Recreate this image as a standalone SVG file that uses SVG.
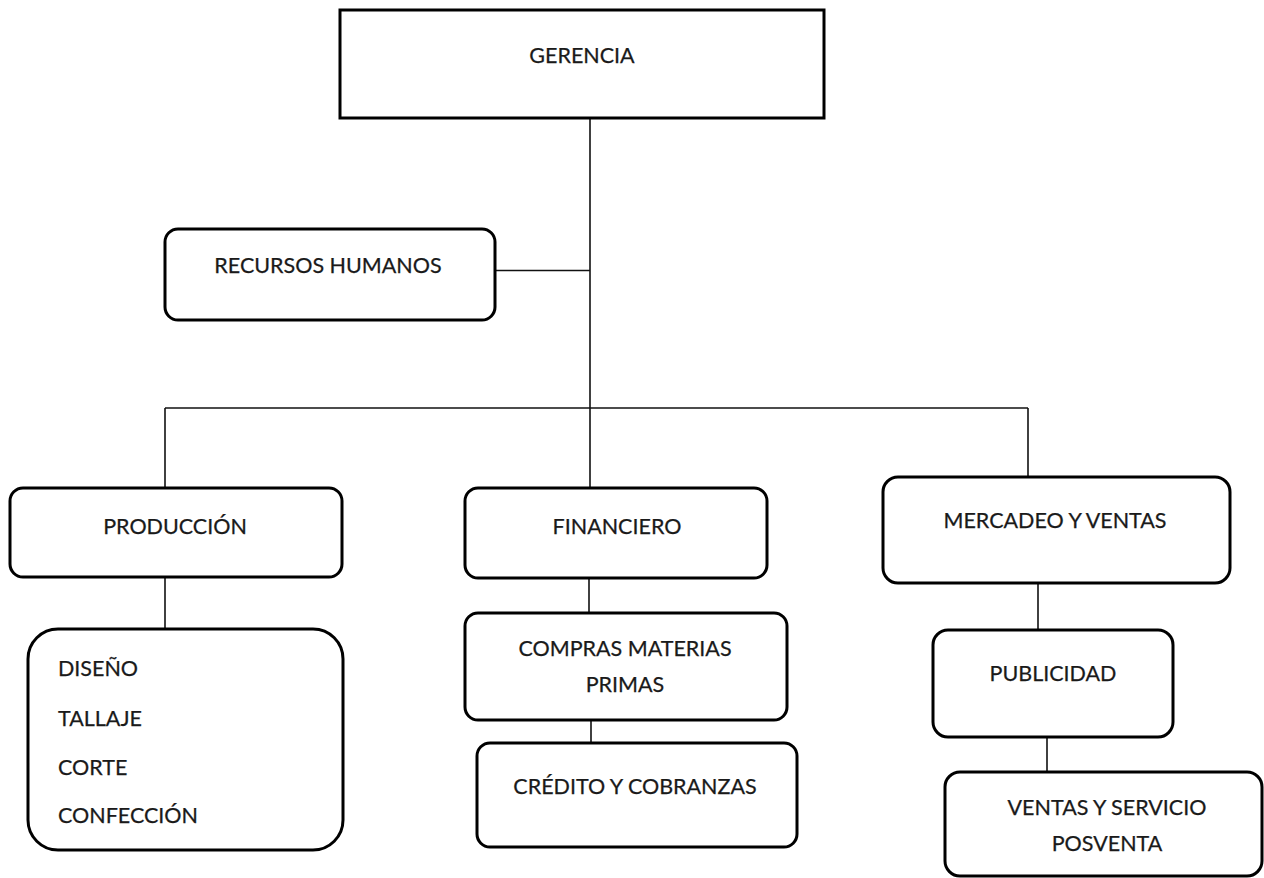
<svg xmlns="http://www.w3.org/2000/svg" width="1264" height="878" viewBox="0 0 1264 878">
  <style>
    .box { fill: #fff; stroke: #000; stroke-width: 3; }
    .lbl { font-family: Lato, "Open Sans", "Liberation Sans", sans-serif; font-size: 21.5px; fill: #1a1a1a; text-anchor: middle; stroke: #1a1a1a; stroke-width: 0.25; }
    .lst { font-family: Lato, "Open Sans", "Liberation Sans", sans-serif; font-size: 21.5px; fill: #1a1a1a; stroke: #1a1a1a; stroke-width: 0.25; }
    .wire { fill: none; stroke: #111; stroke-width: 1.6; }
  </style>
  <rect width="1264" height="878" fill="#fff"/>

  <!-- connectors -->
  <g id="connectors" class="wire">
    <path d="M590 118 V488"/>
    <path d="M495 270.5 H590"/>
    <path d="M165 408 H1028"/>
    <path d="M165 408 V488"/>
    <path d="M1028 408 V477"/>
    <path d="M165 577 V628"/>
    <path d="M589 578 V613"/>
    <path d="M591 720 V743"/>
    <path d="M1038 583 V630"/>
    <path d="M1047 737 V772"/>
  </g>

  <g id="gerencia">
    <rect class="box" x="340" y="10" width="484" height="108"/>
    <text class="lbl" x="582" y="63">GERENCIA</text>
  </g>

  <g id="recursos-humanos">
    <rect class="box" x="165" y="229" width="330" height="91" rx="13"/>
    <text class="lbl" x="328" y="273">RECURSOS HUMANOS</text>
  </g>

  <g id="produccion">
    <rect class="box" x="10" y="488" width="332" height="89" rx="13"/>
    <text class="lbl" x="175" y="534">PRODUCCIÓN</text>
  </g>

  <g id="produccion-tareas">
    <rect class="box" x="28" y="629" width="315" height="221" rx="30"/>
    <text class="lst" x="58" y="676">DISEÑO</text>
    <text class="lst" x="58" y="726">TALLAJE</text>
    <text class="lst" x="58" y="775">CORTE</text>
    <text class="lst" x="58" y="823">CONFECCIÓN</text>
  </g>

  <g id="financiero">
    <rect class="box" x="465" y="488" width="302" height="90" rx="13"/>
    <text class="lbl" x="617" y="534">FINANCIERO</text>
  </g>

  <g id="compras">
    <rect class="box" x="465" y="613" width="322" height="107" rx="13"/>
    <text class="lbl" x="625" y="656">COMPRAS MATERIAS</text>
    <text class="lbl" x="625" y="692">PRIMAS</text>
  </g>

  <g id="credito">
    <rect class="box" x="477" y="743" width="320" height="104" rx="13"/>
    <text class="lbl" x="635" y="794">CRÉDITO Y COBRANZAS</text>
  </g>

  <g id="mercadeo">
    <rect class="box" x="883" y="477" width="347" height="106" rx="15"/>
    <text class="lbl" x="1055" y="528">MERCADEO Y VENTAS</text>
  </g>

  <g id="publicidad">
    <rect class="box" x="933" y="630" width="240" height="107" rx="15"/>
    <text class="lbl" x="1053" y="681">PUBLICIDAD</text>
  </g>

  <g id="ventas-posventa">
    <rect class="box" x="945" y="772" width="317" height="104" rx="15"/>
    <text class="lbl" x="1107" y="815">VENTAS Y SERVICIO</text>
    <text class="lbl" x="1107" y="851">POSVENTA</text>
  </g>
</svg>
